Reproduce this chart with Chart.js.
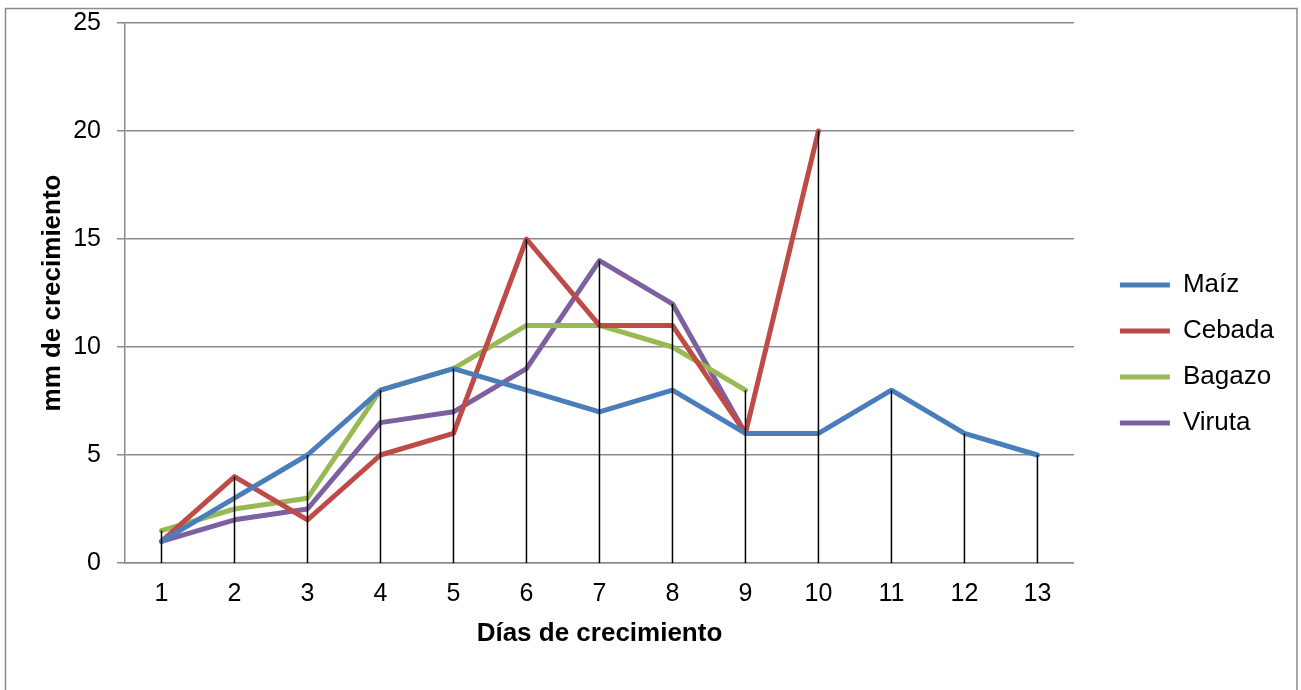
<!DOCTYPE html>
<html>
<head>
<meta charset="utf-8">
<title>Crecimiento</title>
<script src="https://cdn.jsdelivr.net/npm/chart.js@4.4.1/dist/chart.umd.min.js"></script>
<style>
  html, body { margin: 0; padding: 0; background: #ffffff; }
  #wrap { width: 1301px; height: 690px; position: relative; }
</style>
</head>
<body>
<div id="wrap"><canvas id="c" width="1301" height="690"></canvas></div>
<script>
// Días de crecimiento
const dias = ['1', '2', '3', '4', '5', '6', '7', '8', '9', '10', '11', '12', '13'];

// mm de crecimiento por sustrato
const maiz   = [1, 3, 5, 8, 9, 8, 7, 8, 6, 6, 8, 6, 5];
const cebada = [1, 4, 2, 5, 6, 15, 11, 11, 6, 20, null, null, null];
const bagazo = [1.5, 2.5, 3, 8, 9, 11, 11, 10, 8, null, null, null, null];
const viruta = [1, 2, 2.5, 6.5, 7, 9, 14, 12, 6, null, null, null, null];

// Eje Y
const yTicks = [0, 5, 10, 15, 20, 25];

const FONT = '"Liberation Sans", Arial, sans-serif';
const GRID = '#8a8a8a';

function serie(label, data, color) {
  return {
    label: label,
    data: data,
    borderColor: color,
    backgroundColor: color,
    borderWidth: 5,
    borderCapStyle: 'round',
    borderJoinStyle: 'round',
    pointRadius: 0,
    pointHoverRadius: 0,
    tension: 0,
    spanGaps: false
  };
}

// Marco exterior del gráfico
const marco = {
  id: 'marco',
  beforeDraw(chart) {
    const ctx = chart.ctx;
    ctx.save();
    ctx.fillStyle = '#ffffff';
    ctx.fillRect(0, 0, chart.width, chart.height);
    ctx.strokeStyle = GRID;
    ctx.lineWidth = 1.5;
    ctx.strokeRect(5.5, 8.5, 1291.5, 700);
    ctx.restore();
  }
};

// Líneas de proyección: desde el valor más alto de cada día hasta el eje
const proyeccion = {
  id: 'proyeccion',
  afterDatasetsDraw(chart) {
    const ctx = chart.ctx;
    const xs = chart.scales.x;
    const ys = chart.scales.y;
    ctx.save();
    ctx.strokeStyle = '#000000';
    ctx.lineWidth = 1.5;
    dias.forEach((d, i) => {
      let top = null;
      chart.data.datasets.forEach(ds => {
        const v = ds.data[i];
        if (v !== null && v !== undefined && (top === null || v > top)) top = v;
      });
      if (top === null) return;
      const x = xs.getPixelForValue(i);
      ctx.beginPath();
      ctx.moveTo(x, ys.getPixelForValue(top));
      ctx.lineTo(x, ys.getPixelForValue(0));
      ctx.stroke();
    });
    ctx.restore();
  }
};

new Chart(document.getElementById('c'), {
  type: 'line',
  data: {
    labels: dias,
    datasets: [
      serie('Maíz', maiz, '#4a7ebb'),
      serie('Cebada', cebada, '#be4b48'),
      serie('Bagazo', bagazo, '#98b954'),
      serie('Viruta', viruta, '#7d60a0')
    ]
  },
  options: {
    responsive: false,
    animation: false,
    devicePixelRatio: 1,
    layout: { padding: { top: 23, right: 17, bottom: 5, left: 0 } },
    plugins: {
      tooltip: { enabled: false },
      legend: {
        position: 'right',
        align: 'center',
        labels: {
          color: '#000000',
          font: { family: FONT, size: 26 },
          usePointStyle: true,
          pointStyle: 'line',
          pointStyleWidth: 50,
          padding: 20
        }
      }
    },
    scales: {
      x: {
        offset: true,
        grid: { display: false, drawTicks: false, tickLength: 0 },
        border: { display: true, color: GRID, width: 1.5 },
        ticks: { color: '#000000', font: { family: FONT, size: 25 }, padding: 16, maxRotation: 0 },
        title: {
          display: true,
          text: 'Días de crecimiento',
          color: '#000000',
          font: { family: FONT, size: 26, weight: 'bold' },
          padding: { top: 0, bottom: 35.4 }
        },
        afterFit(s) { s.height = 122; }
      },
      y: {
        min: 0,
        max: 25,
        afterBuildTicks(s) { s.ticks = yTicks.map(v => ({ value: v })); },
        grid: { color: GRID, lineWidth: 1.5, tickLength: 8, drawTicks: true },
        border: { display: true, color: GRID, width: 1.5 },
        ticks: { color: '#000000', font: { family: FONT, size: 25 }, padding: 16 },
        title: {
          display: true,
          text: 'mm de crecimiento',
          color: '#000000',
          font: { family: FONT, size: 26, weight: 'bold' },
          padding: { top: 37.4, bottom: 0 }
        },
        afterFit(s) {
          s.width = 125;
          s.paddingTop = 0;
          s.paddingBottom = 0;
        }
      },
      hueco: {
        type: 'linear',
        position: 'right',
        display: true,
        grid: { display: false, drawTicks: false },
        border: { display: false },
        ticks: { display: false },
        afterFit(s) {
          s.width = 26;
          s.paddingTop = 0;
          s.paddingBottom = 0;
        }
      }
    }
  },
  plugins: [marco, proyeccion]
});
</script>
</body>
</html>
